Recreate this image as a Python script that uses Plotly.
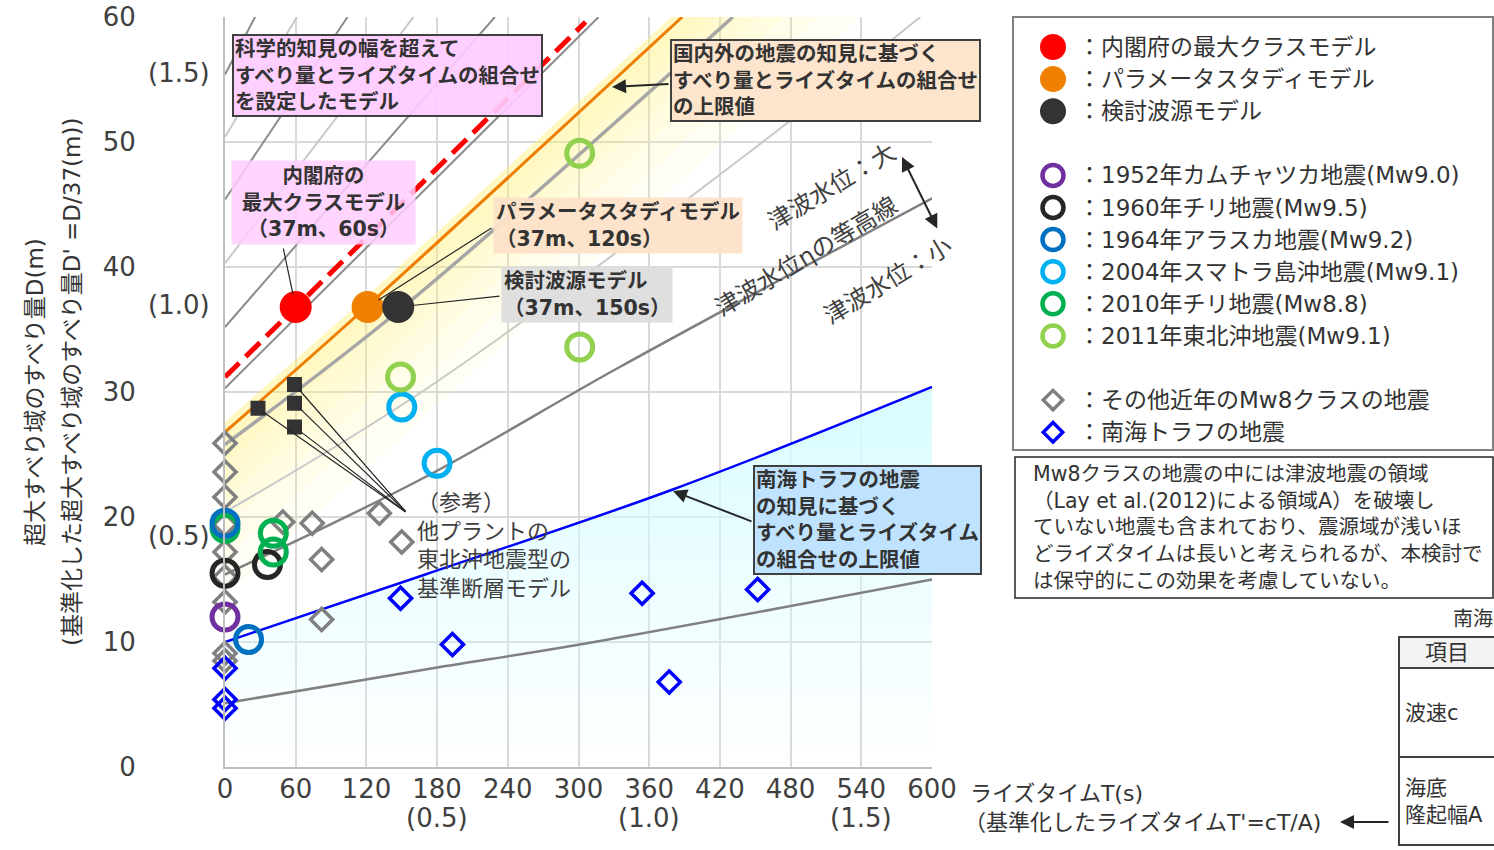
import plotly.graph_objects as go

W, H = 1494, 850
X0, X1, Y0, Y1 = 225, 932, 17, 767      # plot area in page pixels
T_MAX, D_MAX = 600, 60
T_REF, D_REF = 360, 37                   # T'=1 and D'=1
NUM = 'DejaVu Sans, Noto Sans CJK JP'
INK = '#333333'
AX = '#404040'

# ---------------- values ----------------
model_names = ['内閣府の最大クラスモデル', 'パラメータスタディモデル', '検討波源モデル']
model_colors = ['#FF0000', '#F08000', '#333333']
model_t = [60, 121, 147]
model_d = [36.8, 36.8, 36.8]

quake_names = ['1952年カムチャツカ地震(Mw9.0)', '1960年チリ地震(Mw9.5)', '1964年アラスカ地震(Mw9.2)',
               '2004年スマトラ島沖地震(Mw9.1)', '2010年チリ地震(Mw8.8)', '2011年東北沖地震(Mw9.1)']
quake_colors = ['#7030A0', '#262626', '#0070C0', '#00B0F0', '#00B050', '#92D050']
quake_t = [[0], [0, 36], [0, 20], [150, 180], [0, 41, 41], [149, 301, 301]]
quake_d = [[12.0], [15.5, 16.2], [19.5, 10.2], [28.8, 24.3], [19.1, 18.7, 17.2], [31.2, 33.6, 49.1]]
quake_draw_order = [0, 1, 4, 2, 3, 5]

other_name = 'その他近年のMw8クラスの地震'
other_t = [0, 0, 0, 0, 0, 0, 0, 0, 0, 49, 74, 82, 131, 150, 82]
other_d = [25.9, 23.6, 21.6, 19.4, 17.2, 15.2, 13.2, 9.1, 8.5, 19.6, 19.5, 16.6, 20.3, 18.0, 11.8]

nankai_name = '南海トラフの地震'
nankai_t = [0, 0, 0, 149, 193, 354, 377, 452]
nankai_d = [7.9, 5.4, 4.7, 13.5, 9.8, 13.9, 6.8, 14.2]

plant_t = [28, 59, 59, 59]
plant_d = [28.7, 30.6, 29.1, 27.2]

# tsunami height contours (gray)
contour_t = [[0, 25.5], [0, 61], [0, 104], [0, 160], [0, 229], [0, 317],
             [0, 150, 431], [0, 170, 448, 590], [0, 170, 335, 600], [0, 170, 301, 600]]
contour_d = [[55.4, 60], [50.4, 60], [45.4, 60], [40.3, 60], [35.2, 60], [30.3, 60],
             [25.8, 36.7, 60], [20.4, 30.2, 49.4, 60], [15.4, 23.2, 32.0, 45.5], [5.1, 7.8, 9.8, 15.0]]
contour_kind = ['dark', 'light', 'dark', 'light', 'dark', 'dark', 'mid', 'light', 'main', 'main']

red_t = [0, 306]
red_d = [31.2, 59.6]
upper_t = [0, 120, 388]            # orange: upper limit (domestic/overseas)
upper_d = [26.8, 36.8, 60]
nankai_upper_t = [0, 170, 380, 600]
nankai_upper_d = [10.0, 15.4, 22.2, 30.4]

x_ticks = list(range(0, 601, 60))
y_ticks = list(range(0, 61, 10))
norm_vals = [0.5, 1.0, 1.5]
norm_labels = ['(0.5)', '(1.0)', '(1.5)']


def px(x):
    return x / W


def py(y):
    return 1 - y / H


def to_t(x):
    return (x - X0) / (X1 - X0) * T_MAX


def to_d(y):
    return (Y1 - y) / (Y1 - Y0) * D_MAX


fig = go.Figure()

# light blue area under the Nankai upper limit
fig.add_trace(go.Scatter(
    x=nankai_upper_t, y=nankai_upper_d, mode='lines', line=dict(width=0, shape='spline'),
    fill='tozeroy', hoverinfo='skip',
    fillgradient=dict(type='vertical', start=0, stop=28,
                      colorscale=[[0, 'rgba(220,252,255,0.0)'], [1, 'rgba(215,252,255,0.9)']])))

# yellow fading band along the orange upper limit
slope = (upper_d[-1] - upper_d[-2]) / (upper_t[-1] - upper_t[-2])
band_t = upper_t + [800]
band_d = upper_d + [upper_d[-1] + slope * (800 - upper_t[-1])]
for off in [1.2, 2.5, 4, 5.5, 7.5, 10, 13]:
    xs = band_t + band_t[::-1]
    ys = [d + 0.8 for d in band_d] + [d - off for d in band_d[::-1]]
    fig.add_trace(go.Scatter(x=xs, y=ys, mode='lines', line=dict(width=0), fill='toself',
                             fillcolor='rgba(255,243,130,0.09)', hoverinfo='skip'))

styles = {'dark': dict(color='#8C8C8C', width=2), 'light': dict(color='#C8C8C8', width=2),
          'mid': dict(color='#A6A6A6', width=3.5), 'main': dict(color='#808080', width=2.5)}
for ts, ds, kind in zip(contour_t, contour_d, contour_kind):
    fig.add_trace(go.Scatter(x=ts, y=ds, mode='lines', line=dict(shape='spline', **styles[kind]),
                             hoverinfo='skip'))

fig.add_trace(go.Scatter(x=nankai_upper_t, y=nankai_upper_d, mode='lines',
                         line=dict(color='#0000FF', width=2.5, shape='spline')))
fig.add_trace(go.Scatter(x=red_t, y=red_d, mode='lines',
                         line=dict(color='#FF0000', width=5, dash='20px,9px')))
fig.add_trace(go.Scatter(x=upper_t, y=upper_d, mode='lines',
                         line=dict(color='#EE7D00', width=3, shape='spline')))

# markers
fig.add_trace(go.Scatter(x=other_t, y=other_d, mode='markers', cliponaxis=False,
                         marker=dict(symbol='diamond-open', size=17, color='#808080',
                                     line=dict(width=3.5, color='#808080'))))
fig.add_trace(go.Scatter(x=nankai_t, y=nankai_d, mode='markers', cliponaxis=False,
                         marker=dict(symbol='diamond-open', size=17, color='#0000FF',
                                     line=dict(width=3.5, color='#0000FF'))))
fig.add_trace(go.Scatter(x=plant_t, y=plant_d, mode='markers', cliponaxis=False,
                         marker=dict(symbol='square', size=15, color='#333333')))
for i in quake_draw_order:
    fig.add_trace(go.Scatter(x=quake_t[i], y=quake_d[i], mode='markers', cliponaxis=False,
                             marker=dict(symbol='circle-open', size=26, color=quake_colors[i],
                                         line=dict(width=5, color=quake_colors[i]))))
for t, d, c in zip(model_t, model_d, model_colors):
    fig.add_trace(go.Scatter(x=[t], y=[d], mode='markers', cliponaxis=False,
                             marker=dict(symbol='circle', size=32, color=c, line=dict(width=0))))

# ---------------- legend (drawn on its own axes) ----------------
legend_items = [(n, 'circle', c, 26, 0) for n, c in zip(model_names, model_colors)] + [None] + \
               [(n, 'circle-open', c, 21, 4.5) for n, c in zip(quake_names, quake_colors)] + [None] + \
               [(other_name, 'diamond-open', '#808080', 15, 3.5), (nankai_name, 'diamond-open', '#0000FF', 15, 3.5)]

annotations = []
for k, item in enumerate(legend_items):
    if item is None:
        continue
    name, sym, col, size, lw = item
    row = 47 + k * 32.1
    fig.add_trace(go.Scatter(x=[1053], y=[row], xaxis='x2', yaxis='y2', mode='markers', cliponaxis=False,
                             marker=dict(symbol=sym, size=size, color=col, line=dict(width=lw, color=col))))
    annotations.append(dict(text='：' + name, x=1076, y=row, xref='x2', yref='y2', xanchor='left',
                            yanchor='middle', showarrow=False, font=dict(family=NUM, size=23, color=INK)))


def note(text, x, y, size=20.5, color=INK, **kw):
    d = dict(text=text, x=px(x), y=py(y), xref='paper', yref='paper', showarrow=False,
             xanchor='center', yanchor='middle', font=dict(family=NUM, size=size, color=color))
    d.update(kw)
    annotations.append(d)


# boxes in the plot
note('<b>科学的知見の幅を超えて<br>すべり量とライズタイムの組合せ<br>を設定したモデル</b>', 232, 34,
     xanchor='left', yanchor='top', align='left', bgcolor='rgba(255,204,255,0.92)',
     bordercolor='#404040', borderwidth=2, borderpad=1)
note('<b>内閣府の<br>最大クラスモデル<br>（37m、60s）</b>', 323.5, 160, yanchor='top',
     align='center', bgcolor='rgba(255,204,255,0.85)', width=177, borderpad=3)
note('<b>パラメータスタディモデル<br>（37m、120s）</b>', 493, 197, xanchor='left', yanchor='top',
     align='left', bgcolor='rgba(253,226,200,0.95)', borderpad=2)
note('<b>検討波源モデル<br>（37m、150s）</b>', 501, 266, xanchor='left', yanchor='top',
     align='left', bgcolor='rgba(221,221,221,0.95)', borderpad=2)
note('<b>国内外の地震の知見に基づく<br>すべり量とライズタイムの組合せ<br>の上限値</b>', 670, 39,
     xanchor='left', yanchor='top', align='left', bgcolor='#FDE4CC', bordercolor='#404040',
     borderwidth=2, borderpad=1)
note('<b>南海トラフの地震<br>の知見に基づく<br>すべり量とライズタイム<br>の組合せの上限値</b>', 753, 465,
     xanchor='left', yanchor='top', align='left', bgcolor='#BFE3FF', bordercolor='#404040',
     borderwidth=2, borderpad=1)
note('（参考）<br>他プラントの<br>東北沖地震型の<br>基準断層モデル', 415, 488, size=22, color=AX,
     xanchor='left', yanchor='top', align='left')

note('津波水位：大', 832, 187, size=24, color=AX, textangle=-31)
note('津波水位ηの等高線', 806, 257, size=24, color=AX, textangle=-31)
note('津波水位：小', 888, 281, size=24, color=AX, textangle=-31)

# axis titles and normalised tick labels
note('超大すべり域のすべり量D(m)', 35, 392, size=23, color=INK, textangle=-90)
note("(基準化した超大すべり域のすべり量D' =D/37(m))", 72, 382, size=23, color=INK, textangle=-90)
note('ライズタイムT(s)', 968, 793, size=22, color=INK, xanchor='left')
note("（基準化したライズタイムT'=cT/A)", 962, 822, size=22, color=INK, xanchor='left')
for v, lab in zip(norm_vals, norm_labels):
    annotations.append(dict(text=lab, x=v * T_REF, xref='x', y=py(818), yref='paper', showarrow=False,
                            xanchor='center', yanchor='middle', font=dict(family=NUM, size=26, color=AX)))
    annotations.append(dict(text=lab, x=px(212), xref='paper', xanchor='right', y=v * D_REF, yref='y',
                            yanchor='middle', showarrow=False, font=dict(family=NUM, size=26, color=AX)))

# side note and partial table
note('Mw8クラスの地震の中には津波地震の領域<br>（Lay et al.(2012)による領域A）を破壊し<br>'
     'ていない地震も含まれており、震源域が浅いほ<br>どライズタイムは長いと考えられるが、本検討で<br>'
     'は保守的にこの効果を考慮していない。', 1031, 460, size=20.5, xanchor='left', yanchor='top', align='left')
note('南海', 1451, 619, size=20, xanchor='left')
note('項目', 1447, 652, size=22)
note('波速c', 1403, 713, size=21, xanchor='left')
note('海底<br>隆起幅A', 1403, 801, size=21, xanchor='left', align='left')

# leader lines to points
lead = dict(showarrow=True, arrowhead=0, arrowwidth=1.2, arrowcolor='#262626', text='',
            xref='x', yref='y', axref='x', ayref='y')
annotations.append(dict(x=model_t[0], y=model_d[0], ax=to_t(283), ay=to_d(247), standoff=13, **lead))
annotations.append(dict(x=model_t[1], y=model_d[1], ax=to_t(493), ay=to_d(227), standoff=13, **lead))
annotations.append(dict(x=model_t[2], y=model_d[2], ax=to_t(501), ay=to_d(296), standoff=14, **lead))
for t, d in zip(plant_t, plant_d):
    annotations.append(dict(x=t, y=d, ax=to_t(407), ay=to_d(513), standoff=6, **lead))

arrow = dict(showarrow=True, arrowhead=2, arrowsize=1.4, arrowwidth=2, arrowcolor='#262626', text='')
annotations.append(dict(x=to_t(612), y=to_d(87), ax=to_t(670), ay=to_d(84), xref='x', yref='y',
                        axref='x', ayref='y', **arrow))
annotations.append(dict(x=to_t(673), y=to_d(491), ax=to_t(753), ay=to_d(522), xref='x', yref='y',
                        axref='x', ayref='y', **arrow))
annotations.append(dict(x=px(902), y=py(157), xref='paper', yref='paper', ax=36, ay=73,
                        arrowside='end+start', **arrow))
annotations.append(dict(x=px(1340), y=py(822), xref='paper', yref='paper', ax=50, ay=0, **arrow))

shapes = [
    dict(type='rect', xref='paper', yref='paper', x0=px(1013), x1=px(1493), y0=py(450), y1=py(17),
         line=dict(color='#808080', width=2)),
    dict(type='rect', xref='paper', yref='paper', x0=px(1015), x1=px(1493), y0=py(598), y1=py(457),
         line=dict(color='#262626', width=1.5)),
    dict(type='rect', xref='paper', yref='paper', x0=px(1399), x1=px(1510), y0=py(668), y1=py(637),
         fillcolor='#F2F2F2', line=dict(color='#404040', width=2), layer='below'),
    dict(type='rect', xref='paper', yref='paper', x0=px(1399), x1=px(1510), y0=py(845), y1=py(637),
         line=dict(color='#404040', width=2)),
    dict(type='line', xref='paper', yref='paper', x0=px(1399), x1=px(1510), y0=py(757), y1=py(757),
         line=dict(color='#404040', width=2)),
]

fig.update_layout(
    width=W, height=H, margin=dict(l=0, r=0, t=0, b=0, autoexpand=False), showlegend=False,
    plot_bgcolor='white', paper_bgcolor='white',
    xaxis=dict(domain=[px(X0), px(X1)], range=[0, T_MAX], tickvals=x_ticks, showgrid=True,
               gridcolor='#D9D9D9', gridwidth=2, showline=True, linecolor='#BFBFBF', linewidth=2,
               zeroline=False, ticks='', ticklabelstandoff=-2, automargin=False,
               tickfont=dict(family=NUM, size=26, color=AX)),
    yaxis=dict(domain=[py(Y1), py(Y0)], range=[0, D_MAX], tickvals=y_ticks, showgrid=True,
               gridcolor='#D9D9D9', gridwidth=2, showline=True, linecolor='#BFBFBF', linewidth=2,
               zeroline=False, ticks='', ticklabelstandoff=82, automargin=False,
               tickfont=dict(family=NUM, size=26, color=AX)),
    xaxis2=dict(domain=[px(1013), 1.0], range=[1013, W], visible=False, anchor='y2', automargin=False),
    yaxis2=dict(domain=[py(450), py(17)], range=[450, 17], visible=False, anchor='x2', automargin=False),
    annotations=annotations, shapes=shapes,
)

fig.write_html('out.html', config={'displayModeBar': False},
               post_script="document.body.style.margin='0';document.body.style.overflow='hidden';")
